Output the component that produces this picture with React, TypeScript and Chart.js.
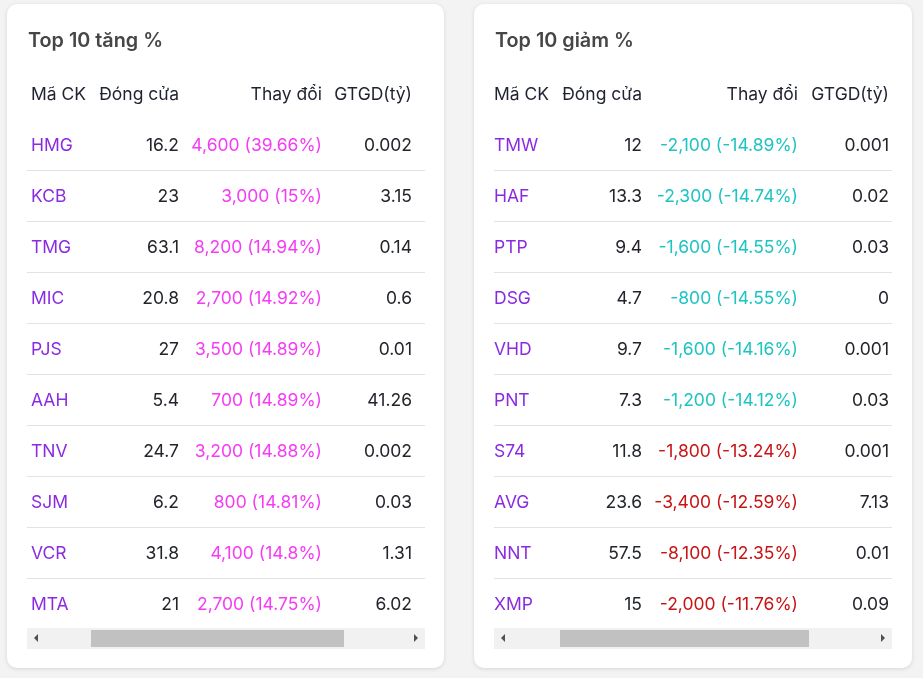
import React, { useEffect, useRef } from "react";
import { Chart, registerables } from "chart.js";

Chart.register(...registerables);

const gainTickers = ["HMG", "KCB", "TMG", "MIC", "PJS", "AAH", "TNV", "SJM", "VCR", "MTA"];
const gainClose = [16.2, 23, 63.1, 20.8, 27, 5.4, 24.7, 6.2, 31.8, 21];
const gainChange = [4600, 3000, 8200, 2700, 3500, 700, 3200, 800, 4100, 2700];
const gainPct = [39.66, 15, 14.94, 14.92, 14.89, 14.89, 14.88, 14.81, 14.8, 14.75];
const gainValue = [0.002, 3.15, 0.14, 0.6, 0.01, 41.26, 0.002, 0.03, 1.31, 6.02];

const loseTickers = ["TMW", "HAF", "PTP", "DSG", "VHD", "PNT", "S74", "AVG", "NNT", "XMP"];
const loseClose = [12, 13.3, 9.4, 4.7, 9.7, 7.3, 11.8, 23.6, 57.5, 15];
const loseChange = [-2100, -2300, -1600, -800, -1600, -1200, -1800, -3400, -8100, -2000];
const losePct = [-14.89, -14.74, -14.55, -14.55, -14.16, -14.12, -13.24, -12.59, -12.35, -11.76];
const loseValue = [0.001, 0.02, 0.03, 0, 0.001, 0.03, 0.001, 7.13, 0.01, 0.09];

const headers = ["Mã CK", "Đóng cửa", "Thay đổi", "GTGD(tỷ)"];

const FONT = "Inter, 'Noto Sans', sans-serif";

function changeColor(pct: number) {
  if (pct > 0) return "#f53cf5";
  if (pct <= -14) return "#1ec4c4";
  return "#c81414";
}

type CardProps = {
  title: string;
  tickers: string[];
  close: number[];
  change: number[];
  pct: number[];
  value: number[];
  width: number;
  cols: number[];
  thumb: [number, number];
};

function TableCard(props: CardProps) {
  const ref = useRef<HTMLCanvasElement | null>(null);
  const H = 664;
  useEffect(() => {
    const canvas = ref.current!;
    const { tickers, close, change, pct, value, cols } = props;
    const textPlugin = {
      id: "tableText",
      afterDatasetsDraw(chart: any) {
        const ctx = chart.ctx as CanvasRenderingContext2D;
        const y = chart.scales.y;
        const band = y.getPixelForValue(1) - y.getPixelForValue(0);
        ctx.save();
        ctx.textBaseline = "middle";
        ctx.font = `400 17.5px ${FONT}`;
        const dy = 1.5;
        const hy = y.getPixelForValue(0) - band + dy;
        ctx.fillStyle = "#1f2230";
        headers.forEach((h, i) => {
          ctx.textAlign = i === 0 ? "left" : "right";
          ctx.fillText(h, cols[i], hy);
        });
        tickers.forEach((t, i) => {
          const py = y.getPixelForValue(i) + dy;
          ctx.textAlign = "left";
          ctx.fillStyle = "#8a2be2";
          ctx.fillText(t, cols[0], py);
          ctx.textAlign = "right";
          ctx.fillStyle = "#22252b";
          ctx.fillText(String(close[i]), cols[1], py);
          ctx.fillStyle = changeColor(pct[i]);
          ctx.fillText(`${change[i].toLocaleString("en-US")} (${pct[i]}%)`, cols[2], py);
          ctx.fillStyle = "#22252b";
          ctx.fillText(String(value[i]), cols[3], py);
        });
        ctx.restore();
      },
    };
    const chart = new Chart(canvas, {
      type: "bar",
      data: {
        labels: tickers,
        datasets: [
          {
            data: close,
            backgroundColor: "rgba(0,0,0,0)",
            borderWidth: 0,
          },
        ],
      },
      options: {
        indexAxis: "y",
        animation: false,
        responsive: false,
        devicePixelRatio: 1,
        events: [],
        layout: { padding: { left: 20, right: props.width - 418, top: 115, bottom: H - 625 } },
        plugins: { legend: { display: false }, tooltip: { enabled: false }, title: { display: false } },
        scales: {
          x: { display: false },
          y: {
            display: true,
            offset: true,
            afterFit: (s: any) => {
              s.width = 0;
            },
            ticks: { display: false },
            border: { display: false },
            grid: {
              offset: true,
              drawTicks: false,
              lineWidth: 1,
              color: (c: any) => (c.index === 0 || c.index >= tickers.length ? "rgba(0,0,0,0)" : "#e2e2e2"),
            },
          },
        },
      },
      plugins: [textPlugin],
    });
    return () => chart.destroy();
  }, []);

  const trackLeft = 20;
  const trackW = 398;
  return (
    <div
      style={{
        position: "absolute",
        top: 0,
        left: 0,
        width: props.width,
        height: H,
        background: "#fff",
        borderRadius: 10,
        boxShadow: "0 1px 4px rgba(0,0,0,0.12)",
        overflow: "hidden",
      }}
    >
      <canvas ref={ref} width={props.width} height={H} style={{ position: "absolute", left: 0, top: 0 }} />
      <div
        style={{
          position: "absolute",
          left: 21,
          top: 24,
          fontFamily: FONT,
          fontWeight: 600,
          fontSize: 19.8,
          lineHeight: "24px",
          color: "#464646",
          whiteSpace: "nowrap",
        }}
      >
        {props.title}
      </div>
      <div
        style={{
          position: "absolute",
          left: trackLeft,
          top: 624,
          width: trackW,
          height: 21,
          background: "#f1f1f1",
        }}
      >
        <div
          style={{
            position: "absolute",
            left: props.thumb[0] - trackLeft,
            width: props.thumb[1] - props.thumb[0],
            top: 2,
            height: 17,
            background: "#c1c1c1",
          }}
        />
        <div
          style={{
            position: "absolute",
            left: 7,
            top: 6,
            width: 0,
            height: 0,
            borderTop: "4px solid transparent",
            borderBottom: "4px solid transparent",
            borderRight: "4px solid #505050",
          }}
        />
        <div
          style={{
            position: "absolute",
            right: 7,
            top: 6,
            width: 0,
            height: 0,
            borderTop: "4px solid transparent",
            borderBottom: "4px solid transparent",
            borderLeft: "4px solid #505050",
          }}
        />
      </div>
    </div>
  );
}

export default function App() {
  return (
    <div
      style={{
        position: "fixed",
        left: 0,
        top: 0,
        width: 923,
        height: 678,
        background: "#f3f3f3",
        overflow: "hidden",
      }}
    >
      <div style={{ position: "absolute", left: 7, top: 4 }}>
        <TableCard
          title="Top 10 tăng %"
          tickers={gainTickers}
          close={gainClose}
          change={gainChange}
          pct={gainPct}
          value={gainValue}
          width={437}
          cols={[24, 172, 315, 405]}
          thumb={[84, 337]}
        />
      </div>
      <div style={{ position: "absolute", left: 474, top: 4 }}>
        <TableCard
          title="Top 10 giảm %"
          tickers={loseTickers}
          close={loseClose}
          change={loseChange}
          pct={losePct}
          value={loseValue}
          width={438}
          cols={[20, 168, 324, 415]}
          thumb={[86, 335]}
        />
      </div>
    </div>
  );
}
